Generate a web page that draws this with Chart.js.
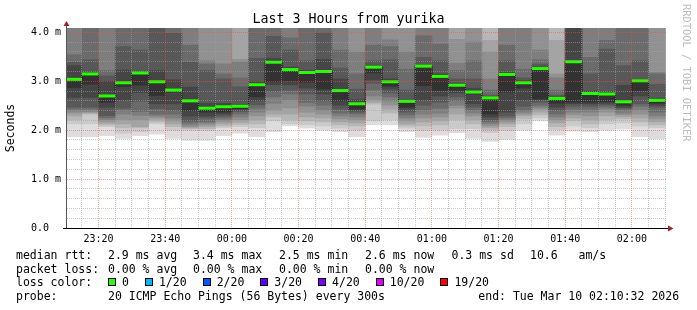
<!DOCTYPE html>
<html>
<head>
<meta charset="utf-8">
<script src="https://cdn.jsdelivr.net/npm/chart.js@4.4.1/dist/chart.umd.min.js"></script>
<style>
html,body{margin:0;padding:0;background:#fff;}
#wrap{position:relative;width:697px;height:310px;overflow:hidden;background:#fff;font-family:"DejaVu Sans Mono",monospace;color:#000;}
#c{position:absolute;left:0;top:0;}
.t{position:absolute;white-space:pre;}
#title{left:0;width:697px;text-align:center;top:11px;font-size:13.3px;line-height:16px;}
#credit{left:681px;top:4px;writing-mode:vertical-rl;font-size:10.4px;line-height:12px;color:#bdbdbd;}
.lg{font-size:11.5px;line-height:14px;height:14px;}
.flex{display:flex;align-items:center;}
.box{display:inline-block;width:6px;height:6px;border:1px solid #000;margin-right:6px;}
.box.n{margin-left:16px;}
</style>
</head>
<body>
<div id="wrap">
  <canvas id="c" width="697" height="310"></canvas>
  <div id="title" class="t"></div>
  <div id="credit" class="t"></div>
  <div id="legend"></div>
</div>
<script>
// ---------------- data ----------------
const chartTitle = "Last 3 Hours from yurika";
const creditText = "RRDTOOL / TOBI OETIKER";
const yAxisTitle = "Seconds";
const windowStart = "23:10:32";
const windowEnd = "02:10:32";
const yMax = 4.09;

// 5-minute columns (start time of each RRD step)
const colStarts = ["23:10","23:15","23:20","23:25","23:30","23:35","23:40","23:45","23:50","23:55",
  "00:00","00:05","00:10","00:15","00:20","00:25","00:30","00:35","00:40","00:45",
  "00:50","00:55","01:00","01:05","01:10","01:15","01:20","01:25","01:30","01:35",
  "01:40","01:45","01:50","01:55","02:00","02:05"];

// median rtt per column (ms)
const medianRtt = [3.04,3.15,2.70,2.97,3.17,2.99,2.82,2.60,2.45,2.48,
  2.49,2.93,3.39,3.24,3.18,3.20,2.81,2.54,3.29,2.99,
  2.59,3.31,3.10,2.92,2.78,2.66,3.14,2.97,3.26,2.65,
  3.40,2.75,2.74,2.58,3.01,2.61];

// 20 sorted ping rtts (ms) per column; values above the top of the graph are off-scale
const c2310 = [1.87,2.13,2.21,2.29,2.35,2.39,2.43,2.47,2.67,2.87,3.04,3.32,3.39,3.54,4.3,4.5,4.8,5.3,6.1,7.9];
const c2315 = [1.87,2.13,2.33,2.35,2.37,2.39,2.43,2.47,2.67,2.94,3.15,3.19,3.44,4.25,4.4,4.7,5.0,5.6,6.3,8.2];
const c2320 = [1.89,2.07,2.11,2.14,2.18,2.22,2.26,2.30,2.47,2.57,2.70,3.00,3.11,3.22,4.3,4.45,4.7,5.1,5.9,7.2];
const c2325 = [1.83,1.94,2.05,2.13,2.21,2.33,2.41,2.45,2.62,2.89,2.97,3.23,3.71,4.3,4.4,4.6,4.9,5.4,6.2,7.7];
const c2330 = [1.89,1.97,2.05,2.07,2.21,2.30,2.38,2.59,2.77,2.92,3.17,3.20,3.64,4.25,4.4,4.65,5.0,5.5,6.4,8.0];
const c2335 = [1.92,2.13,2.17,2.21,2.25,2.29,2.33,2.44,2.54,2.71,2.99,3.22,4.3,4.4,4.6,4.9,5.3,5.9,6.8,8.5];
const c2340 = [1.83,2.00,2.07,2.13,2.19,2.25,2.33,2.41,2.54,2.78,2.82,3.03,3.98,4.3,4.45,4.7,5.0,5.5,6.2,7.6];
const c2345 = [1.79,2.00,2.03,2.05,2.07,2.11,2.15,2.19,2.29,2.40,2.60,2.88,3.39,3.74,4.3,4.5,4.8,5.2,5.9,7.0];
const c2350 = [1.79,1.99,2.03,2.07,2.11,2.15,2.17,2.25,2.29,2.37,2.45,2.55,3.22,3.35,3.42,4.3,4.5,4.9,5.6,6.8];
const c2355 = [1.89,2.05,2.09,2.13,2.17,2.21,2.25,2.29,2.33,2.37,2.48,2.55,3.05,3.15,3.35,4.3,4.5,4.8,5.4,6.6];
const c0000 = [1.94,2.07,2.12,2.16,2.21,2.27,2.33,2.38,2.41,2.44,2.49,2.53,2.89,3.07,3.40,3.45,4.3,4.6,5.1,6.2];
const c0005 = [1.87,2.05,2.13,2.21,2.29,2.37,2.45,2.52,2.60,2.68,2.93,2.99,3.47,4.3,4.45,4.7,5.0,5.5,6.3,7.8];
const c0010 = [1.97,2.19,2.27,2.33,2.41,2.55,2.68,2.80,2.93,2.99,3.39,3.47,3.92,4.3,4.45,4.7,5.0,5.6,6.4,8.0];
const c0015 = [2.09,2.13,2.21,2.33,2.45,2.62,2.74,2.82,2.93,3.01,3.24,3.29,3.64,3.89,4.3,4.5,4.8,5.2,5.9,7.1];
const c0020 = [2.04,2.11,2.19,2.27,2.37,2.49,2.57,2.74,2.86,2.98,3.18,3.22,3.42,4.3,4.45,4.7,5.0,5.6,6.5,8.1];
const c0025 = [2.00,2.09,2.17,2.25,2.33,2.41,2.51,2.60,2.74,2.84,3.20,3.45,3.99,4.3,4.45,4.7,5.1,5.6,6.4,7.9];
const c0030 = [1.97,2.04,2.11,2.17,2.23,2.29,2.35,2.43,2.51,2.60,2.81,3.05,3.27,3.64,4.3,4.5,4.8,5.3,6.0,7.4];
const c0035 = [1.87,2.00,2.09,2.15,2.21,2.27,2.33,2.37,2.41,2.43,2.54,2.62,2.84,3.15,3.60,4.3,4.5,4.9,5.5,6.7];
const c0040 = [2.11,2.19,2.53,2.57,2.62,2.70,2.82,2.96,3.03,3.17,3.29,3.33,3.42,3.74,4.3,4.5,4.8,5.3,6.0,7.3];
const c0045 = [2.11,2.21,2.35,2.43,2.51,2.60,2.68,2.76,2.84,2.90,2.99,3.05,3.44,3.71,3.85,4.3,4.5,4.9,5.5,6.8];
const c0050 = [1.97,2.04,2.09,2.13,2.19,2.25,2.31,2.37,2.43,2.47,2.59,2.62,2.82,3.25,3.60,4.3,4.5,4.9,5.5,6.7];
const c0055 = [1.85,1.99,2.09,2.17,2.25,2.33,2.41,2.51,2.62,2.91,3.31,3.33,3.49,3.93,4.3,4.5,4.8,5.3,6.0,7.4];
const c0100 = [1.90,2.00,2.11,2.19,2.27,2.35,2.45,2.57,2.70,2.81,3.10,3.15,3.42,3.76,4.3,4.5,4.8,5.3,6.0,7.5];
const c0105 = [1.95,2.03,2.21,2.33,2.45,2.51,2.60,2.68,2.76,2.82,2.92,2.96,3.05,3.22,3.37,3.86,4.3,4.6,5.2,6.3];
const c0110 = [1.83,2.03,2.13,2.21,2.29,2.35,2.41,2.47,2.54,2.74,2.78,2.86,3.05,3.42,3.80,4.3,4.5,4.9,5.5,6.8];
const c0115 = [1.77,1.95,2.01,2.05,2.09,2.13,2.17,2.21,2.27,2.33,2.66,2.68,2.72,2.82,3.05,3.60,3.84,4.3,4.8,5.9];
const c0120 = [1.81,1.99,2.07,2.13,2.17,2.21,2.25,2.29,2.37,2.78,3.14,3.18,3.42,3.74,4.3,4.5,4.8,5.3,6.0,7.4];
const c0125 = [2.00,2.13,2.23,2.29,2.33,2.37,2.41,2.49,2.62,2.86,2.97,3.01,3.07,3.25,4.3,4.5,4.8,5.3,6.0,7.3];
const c0130 = [2.19,2.25,2.31,2.37,2.43,2.47,2.51,2.57,2.62,2.64,3.26,3.29,3.35,3.44,3.64,4.3,4.5,4.9,5.5,6.7];
const c0135 = [1.90,2.01,2.07,2.15,2.21,2.27,2.33,2.41,2.47,2.55,2.65,2.68,2.72,2.82,3.07,3.15,3.84,4.3,4.8,5.8];
const c0140 = [1.98,2.09,2.19,2.25,2.31,2.37,2.43,2.49,2.54,2.57,3.40,4.3,4.4,4.6,4.85,5.2,5.6,6.2,7.0,8.6];
const c0145 = [1.97,2.05,2.13,2.21,2.29,2.37,2.43,2.49,2.54,2.57,2.75,2.80,3.15,3.49,4.3,4.45,4.7,5.1,5.7,6.9];
const c0150 = [2.00,2.13,2.21,2.29,2.37,2.43,2.47,2.51,2.55,2.58,2.74,2.78,3.66,3.84,4.3,4.5,4.8,5.3,6.0,7.3];
const c0155 = [2.02,2.15,2.23,2.27,2.31,2.35,2.41,2.45,2.47,2.51,2.58,2.92,3.32,4.3,4.45,4.7,5.0,5.5,6.3,7.7];
const c0200 = [1.87,2.09,2.17,2.25,2.33,2.41,2.49,2.54,2.70,2.81,3.01,3.04,3.42,4.3,4.45,4.7,5.0,5.6,6.4,7.9];
const c0205 = [1.82,2.05,2.11,2.17,2.23,2.29,2.37,2.47,2.51,2.55,2.61,2.64,2.94,3.15,3.18,4.3,4.5,4.9,5.5,6.8];

const pingColumns = [c2310,c2315,c2320,c2325,c2330,c2335,c2340,c2345,c2350,c2355,
  c0000,c0005,c0010,c0015,c0020,c0025,c0030,c0035,c0040,c0045,
  c0050,c0055,c0100,c0105,c0110,c0115,c0120,c0125,c0130,c0135,
  c0140,c0145,c0150,c0155,c0200,c0205];

const xTickLabels = ["23:20","23:40","00:00","00:20","00:40","01:00","01:20","01:40","02:00"];
const yTickValues = [0,1,2,3,4];
const yTickLabels = ["0.0  ","1.0 m","2.0 m","3.0 m","4.0 m"];

const medianStats = ["2.9 ms avg","3.4 ms max","2.5 ms min","2.6 ms now","0.3 ms sd","10.6","am/s"];
const lossStats = ["0.00 % avg","0.00 % max","0.00 % min","0.00 % now"];
const lossLabels = ["0","1/20","2/20","3/20","4/20","10/20","19/20"];
const lossColors = ["#26ff00","#00b8ff","#0059ff","#5e00ff","#7e00ff","#dd00ff","#ff0000"];
const probeText = "20 ICMP Echo Pings (56 Bytes) every 300s";
const endText = "end: Tue Mar 10 02:10:32 2026";

// ---------------- helpers ----------------
function toMin(s){
  const p = s.split(":").map(Number);
  let m = p[0]*60 + p[1] + (p[2]||0)/60;
  if (p[0] >= 12) m -= 1440;
  return m;
}
function fmt(v){
  let m = Math.round(v); if (m < 0) m += 1440;
  const h = Math.floor(m/60), mm = m%60;
  return String(h).padStart(2,"0")+":"+String(mm).padStart(2,"0");
}
const xMin = toMin(windowStart), xMax = toMin(windowEnd);
const centers = colStarts.map(s => toMin(s) + 2.5);
const xLabelVals = xTickLabels.map(toMin);
const FONT = "'DejaVu Sans Mono', monospace";

// ---------------- texts ----------------
document.getElementById("title").textContent = chartTitle;
document.getElementById("credit").textContent = creditText;
(function buildLegend(){
  const lg = document.getElementById("legend");
  function seg(text, left, center){
    const d = document.createElement("div");
    d.className = "t lg"; d.style.left = left+"px"; d.style.top = (center-7)+"px";
    d.textContent = text; lg.appendChild(d);
  }
  const statX = [108,193,279,365,451.5,530,578.5];
  seg("median rtt:",16,254.5);
  medianStats.forEach((s,i)=>seg(s,statX[i],254.5));
  seg("packet loss:",16,268.5);
  lossStats.forEach((s,i)=>seg(s,statX[i],268.5));
  seg("loss color:",16,282.3);
  const row = document.createElement("div");
  row.className = "t lg flex"; row.style.left = "108px"; row.style.top = (282.3-7)+"px";
  lossLabels.forEach((l,i)=>{
    const b = document.createElement("span");
    b.className = "box" + (i ? " n" : ""); b.style.background = lossColors[i];
    const t = document.createElement("span"); t.textContent = l;
    row.appendChild(b); row.appendChild(t);
  });
  lg.appendChild(row);
  seg("probe:",16,296);
  seg(probeText,108,296);
  seg(endText,478.3,296);
})();

// ---------------- datasets ----------------
const datasets = [];
// smoke: nested ranges, outermost (lightest) first
for (let k = 1; k <= 10; k++){
  const g = Math.floor(190/10*(10-k)) + 50;
  datasets.push({
    type: "bar",
    data: pingColumns.map((col,i)=>({x: centers[i], y: [col[k-1], col[20-k]]})),
    backgroundColor: `rgb(${g},${g},${g})`,
    borderWidth: 0,
    grouped: false,
    barPercentage: 1,
    categoryPercentage: 1,
    clip: 0,
    order: 100 - k
  });
}
// thin dark median step line
datasets.push({
  type: "line",
  data: medianRtt.map((v,i)=>({x: centers[i], y: v})),
  stepped: "middle",
  borderColor: "#202020",
  borderWidth: 1,
  pointRadius: 0,
  fill: false,
  clip: 0,
  order: 2
});
// green median segments (0 loss)
datasets.push({
  type: "line",
  data: medianRtt.map((v,i)=>({x: centers[i], y: v})),
  showLine: false,
  pointStyle: "line",
  pointRadius: 8.3333,
  pointHoverRadius: 8.3333,
  pointBorderWidth: 3,
  pointBorderColor: lossColors[0],
  pointBackgroundColor: lossColors[0],
  clip: 0,
  order: 1
});

const minorGrid = "rgba(160,160,160,0.55)";
const majorGrid = "rgba(255,70,70,0.5)";

const axisPlugin = {
  id: "rrdAxes",
  afterDraw(chart){
    const {ctx, chartArea: a} = chart;
    ctx.save();
    ctx.fillStyle = "#000";
    ctx.fillRect(a.left - 4, a.bottom, a.right - a.left + 5, 1);
    ctx.fillStyle = "#555";
    ctx.fillRect(a.left - 1, a.top - 3, 1, a.bottom - a.top + 3);
    ctx.fillStyle = "#a02323";
    ctx.beginPath();
    ctx.moveTo(a.left - 0.5, a.top - 7);
    ctx.lineTo(a.left - 3.5, a.top - 2);
    ctx.lineTo(a.left + 2.5, a.top - 2);
    ctx.closePath(); ctx.fill();
    ctx.beginPath();
    ctx.moveTo(a.right + 6.5, a.bottom + 0.5);
    ctx.lineTo(a.right + 1, a.bottom - 2.5);
    ctx.lineTo(a.right + 1, a.bottom + 3.5);
    ctx.closePath(); ctx.fill();
    ctx.restore();
  }
};

Chart.defaults.font.family = FONT;
Chart.defaults.color = "#000";

new Chart(document.getElementById("c"), {
  type: "bar",
  data: { datasets },
  options: {
    responsive: false,
    devicePixelRatio: 1,
    animation: false,
    events: [],
    layout: { padding: { left: 0, right: 30, top: 28, bottom: 0 } },
    plugins: { legend: { display: false }, tooltip: { enabled: false }, title: { display: false } },
    scales: {
      x: {
        type: "linear",
        min: xMin, max: xMax,
        offset: false,
        afterFit: s => { s.height = 82; },
        afterBuildTicks: s => {
          const t = [];
          for (let v = toMin("23:15"); v <= xMax; v += 5) t.push({ value: v });
          s.ticks = t;
        },
        ticks: {
          autoSkip: false, maxRotation: 0, minRotation: 0, padding: 5,
          font: { family: FONT, size: 10 }, color: "#000",
          callback: v => { const i = xLabelVals.findIndex(x => Math.abs(x - v) < 1e-6); return i >= 0 ? xTickLabels[i] : ""; }
        },
        grid: {
          offset: false, drawTicks: false, z: 1, lineWidth: 1,
          color: c => (xLabelVals.some(x => Math.abs(x - c.tick.value) < 1e-6) ? majorGrid : minorGrid)
        },
        border: { display: false, dash: [1,1] }
      },
      y: {
        type: "linear",
        min: 0, max: yMax,
        afterFit: s => { s.width = 67; },
        afterBuildTicks: s => {
          const t = [];
          for (let i = 0; i <= 20; i++) t.push({ value: Math.round(i*2)/10 });
          s.ticks = t;
        },
        ticks: {
          autoSkip: false, padding: 6,
          font: { family: FONT, size: 10 }, color: "#000",
          callback: v => { const i = yTickValues.findIndex(x => Math.abs(x - v) < 1e-6); return i >= 0 ? yTickLabels[i] : ""; }
        },
        grid: {
          drawTicks: false, z: 1, lineWidth: 1,
          color: c => (yTickValues.some(x => Math.abs(x - c.tick.value) < 1e-6) ? majorGrid : minorGrid)
        },
        border: { display: false, dash: [1,1] },
        title: { display: true, text: yAxisTitle, font: { family: FONT, size: 11.5 }, color: "#000", padding: { top: 4, bottom: 4 } }
      }
    }
  },
  plugins: [axisPlugin]
});
</script>
</body>
</html>
